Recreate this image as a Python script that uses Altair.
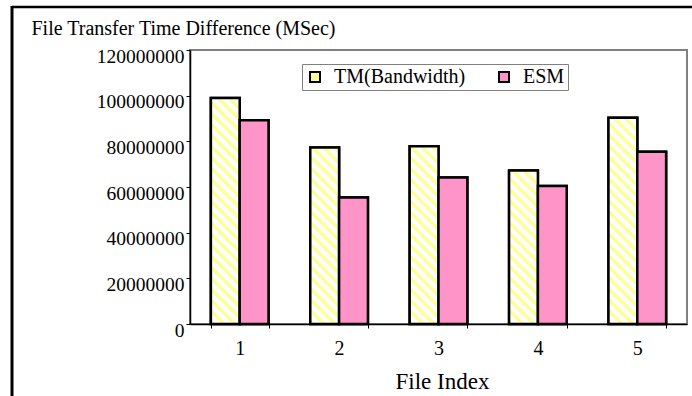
import altair as alt
import pandas as pd

# ---- data ----
file_index = ["1", "2", "3", "4", "5"]
tm_bandwidth = [99000000, 77300000, 77900000, 67200000, 90300000]
esm = [89200000, 55400000, 64200000, 60400000, 75400000]
series_names = ["TM(Bandwidth)", "ESM"]

rows = []
for i, f in enumerate(file_index):
    rows.append({"File Index": f, "series": series_names[0], "value": tm_bandwidth[i]})
    rows.append({"File Index": f, "series": series_names[1], "value": esm[i]})
df = pd.DataFrame(rows)

# ---- styling constants ----
FONT = "Liberation Serif"
W_PLOT, H_PLOT = 497, 274
Y_MAX = 120000000
YELLOW = "#FFFF99"
PINK = "#FF94C9"
BAR_W = W_PLOT / 5 * 0.58 / 2  # width of one bar in pixels
N_STRIPES = 26
PERIOD = 11
L = N_STRIPES * PERIOD

stops = []
for i in range(N_STRIPES):
    a = i / N_STRIPES
    b = (i + 0.45) / N_STRIPES
    c = (i + 1) / N_STRIPES
    stops += [
        f"{{offset:{a:.5f},color:'{YELLOW}'}}",
        f"{{offset:{b:.5f},color:'{YELLOW}'}}",
        f"{{offset:{b:.5f},color:'#FFFFFF'}}",
        f"{{offset:{c:.5f},color:'#FFFFFF'}}",
    ]
stops_expr = "[" + ",".join(stops) + "]"
H_EXPR = f"(datum.value/{Y_MAX}*{H_PLOT})"
D_EXPR = f"({BAR_W}*{BAR_W}+{H_EXPR}*{H_EXPR})"
grad_expr = (
    f"datum.series === '{series_names[0]}' ? "
    f"{{gradient:'linear', x1:0, y1:1, x2:{L}*{BAR_W}/{D_EXPR}, y2:1-{L}*{H_EXPR}/{D_EXPR}, stops:{stops_expr}}}"
    f" : '{PINK}'"
)

x_enc = alt.X(
    "File Index:N",
    sort=file_index,
    scale=alt.Scale(paddingInner=0.42, paddingOuter=0.21),
    axis=alt.Axis(
        title="File Index",
        labelAngle=0,
        labelFont=FONT,
        labelFontSize=20,
        labelColor="#000000",
        labelPadding=10,
        labelBaseline="top",
        tickBand="extent",
        tickSize=4,
        tickColor="#000000",
        domainColor="#000000",
        domainWidth=1.5,
        titleFont=FONT,
        titleFontSize=23,
        titleFontWeight="normal",
        titleColor="#000000",
        titleBaseline="alphabetic",
        titleY=64,
        titleX=252,
    ),
)
y_enc = alt.Y(
    "value:Q",
    scale=alt.Scale(domain=[0, Y_MAX], nice=False),
    axis=alt.Axis(
        title="File Transfer Time Difference (MSec)",
        values=[0, 20000000, 40000000, 60000000, 80000000, 100000000, 120000000],
        format="d",
        grid=False,
        labelFont=FONT,
        labelFontSize=19.5,
        labelColor="#000000",
        labelPadding=2,
        labelBaseline="middle",
        labelOffset=6,
        tickSize=4,
        tickColor="#000000",
        domainColor="#000000",
        domainWidth=1.5,
        titleAngle=0,
        titleAlign="left",
        titleBaseline="alphabetic",
        titleX=-159,
        titleY=-16,
        titleFont=FONT,
        titleFontSize=20,
        titleFontWeight="normal",
        titleColor="#000000",
    ),
)
xoff = alt.XOffset("series:N", sort=series_names, scale=alt.Scale(paddingInner=0, paddingOuter=0))

base = alt.Chart(df)

legend_bars = base.mark_bar(stroke="#000000", strokeWidth=2.5).encode(
    x=x_enc,
    xOffset=xoff,
    y=y_enc,
    color=alt.Color(
        "series:N",
        sort=series_names,
        scale=alt.Scale(domain=series_names, range=[YELLOW, PINK]),
        legend=alt.Legend(
            title=None,
            orient="none",
            legendX=112,
            legendY=14,
            direction="horizontal",
            columns=2,
            columnPadding=28,
            labelFont=FONT,
            labelFontSize=20,
            labelColor="#000000",
            labelOffset=9,
            symbolType="square",
            symbolSize=100,
            symbolStrokeColor="#000000",
            symbolStrokeWidth=2,
            symbolOpacity=1,
            padding=3,
            strokeColor="#808080",
            fillColor="#FFFFFF",
            offset=0,
        ),
    ),
)

pattern_bars = base.transform_calculate(grad=grad_expr).mark_bar(
    stroke="#000000", strokeWidth=2.5
).encode(
    x=x_enc,
    xOffset=xoff,
    y=y_enc,
    fill=alt.Fill("grad:N", scale=None),
)

frame_data = alt.Data(values=[{"k": 1}])
frame_top = alt.Chart(frame_data).mark_rule(color="#000000", strokeWidth=2.5).encode(
    x=alt.value(-178), x2=alt.value(510), y=alt.value(-43)
)
frame_left = alt.Chart(frame_data).mark_rule(color="#000000", strokeWidth=3).encode(
    x=alt.value(-178), y=alt.value(-44), y2=alt.value(360)
)

chart = (
    alt.layer(legend_bars, pattern_bars, frame_top, frame_left)
    .properties(
        width=W_PLOT,
        height=H_PLOT,
        autosize=alt.AutoSizeParams(type="none"),
        padding={"left": 190, "top": 50, "right": 5, "bottom": 72},
        background="#FFFFFF",
    )
    .configure_view(stroke="#808080", strokeWidth=2)
)

chart.save("out.html", embed_options={"renderer": "svg", "actions": False})
